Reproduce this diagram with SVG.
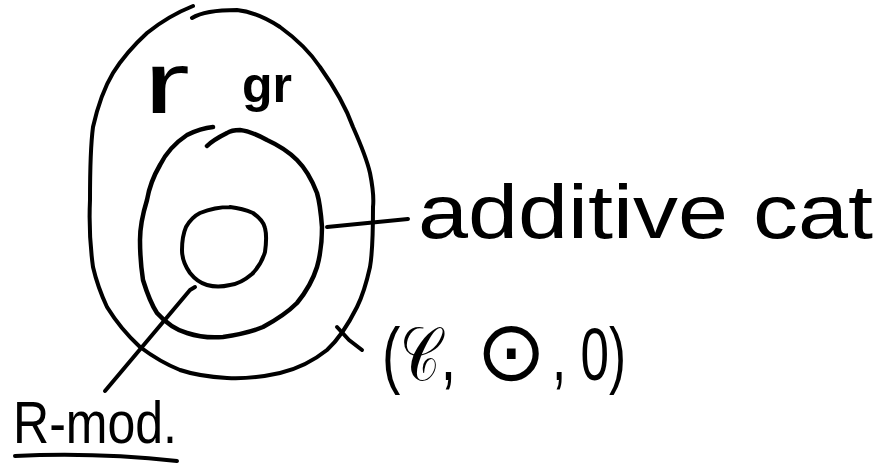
<svg xmlns="http://www.w3.org/2000/svg" width="879" height="472" viewBox="0 0 879 472">
<style>
.s{fill:none;stroke:#000;stroke-width:4;stroke-linecap:round;stroke-linejoin:round}
.t{font-family:"Liberation Sans","DejaVu Sans",sans-serif;fill:#000}
</style>
<rect width="879" height="472" fill="#fff"/>
<g id="outer">
<path class="s" d="M192,18 C200,13 215,10 237,10 C255,12 268,19 280,27 C298,40 310,52 320,67 C335,88 345,105 353,127 C361,145 367,160 370,173 C373,188 374,198 373,207 C373,230 373,250 370,267 C366,285 362,297 357,307 C348,325 338,340 327,350 C312,362 297,369 280,373 C262,377 245,379 227,378 C210,377 195,375 180,370 C165,364 152,356 140,347 C127,335 115,320 107,307 C100,292 96,280 93,267 C90,245 89,222 90,200 C90,175 90,150 93,127 C98,105 104,88 113,73 C123,57 135,44 147,33 C163,20 178,12 193,6"/>
<text class="t" x="143" y="113" font-size="88" textLength="47" lengthAdjust="spacingAndGlyphs">r</text>
</g>
<g id="middle">
<path class="s" style="stroke-width:4.5" d="M213,127 C203,128 195,131 187,135 C175,143 166,153 160,165 C153,177 149,188 147,200 C143,213 140,226 140,240 C140,254 141,267 143,280 C147,293 151,304 157,313 C166,323 176,330 187,333 C199,337 211,338 223,337 C237,335 251,332 263,327 C276,320 288,312 297,303 C306,292 313,280 317,267 C321,253 322,240 322,227 C321,214 320,203 317,193 C312,180 306,169 297,160 C288,151 278,145 267,140 C258,135 249,131 240,130 C234,130 230,131 227,133 C219,137 212,141 207,146"/>
<text class="t" x="242" y="102" font-size="50" font-weight="bold">gr</text>
</g>
<g id="inner">
<path class="s" d="M230,207 C238,208 246,210 253,213 C260,218 264,223 265,228 C267,236 266,245 265,252 C262,262 258,268 252,274 C245,280 238,284 230,285 C222,287 214,287 207,285 C200,283 194,278 190,273 C185,266 182,258 182,250 C182,242 183,234 186,227 C190,220 194,216 200,213 C210,209 220,207 230,207"/>
</g>
<g id="connectors">
<path class="s" d="M195,287 L190,290 L105,391"/>
<path class="s" d="M327,227 L408,219"/>
<path class="s" d="M337,327 L349,340 L362,350"/>
</g>
<g id="label-additive">
<text class="t" x="418" y="238" font-size="76" textLength="455" lengthAdjust="spacingAndGlyphs">additive cat</text>
</g>
<g id="label-tuple">
<text class="t" x="382" y="380" font-size="75" textLength="74" lengthAdjust="spacingAndGlyphs">(𝒞,</text>
<text x="476" y="380" font-size="84" font-family="DejaVu Sans, sans-serif">⊙</text>
<text class="t" x="552" y="380" font-size="75" textLength="74" lengthAdjust="spacingAndGlyphs">, 0)</text>
</g>
<g id="label-rmod">
<text class="t" x="13" y="443" font-size="60" textLength="164" lengthAdjust="spacingAndGlyphs">R-mod.</text>
<path class="s" d="M15,456 Q95,452 177,461"/>
</g>
</svg>
